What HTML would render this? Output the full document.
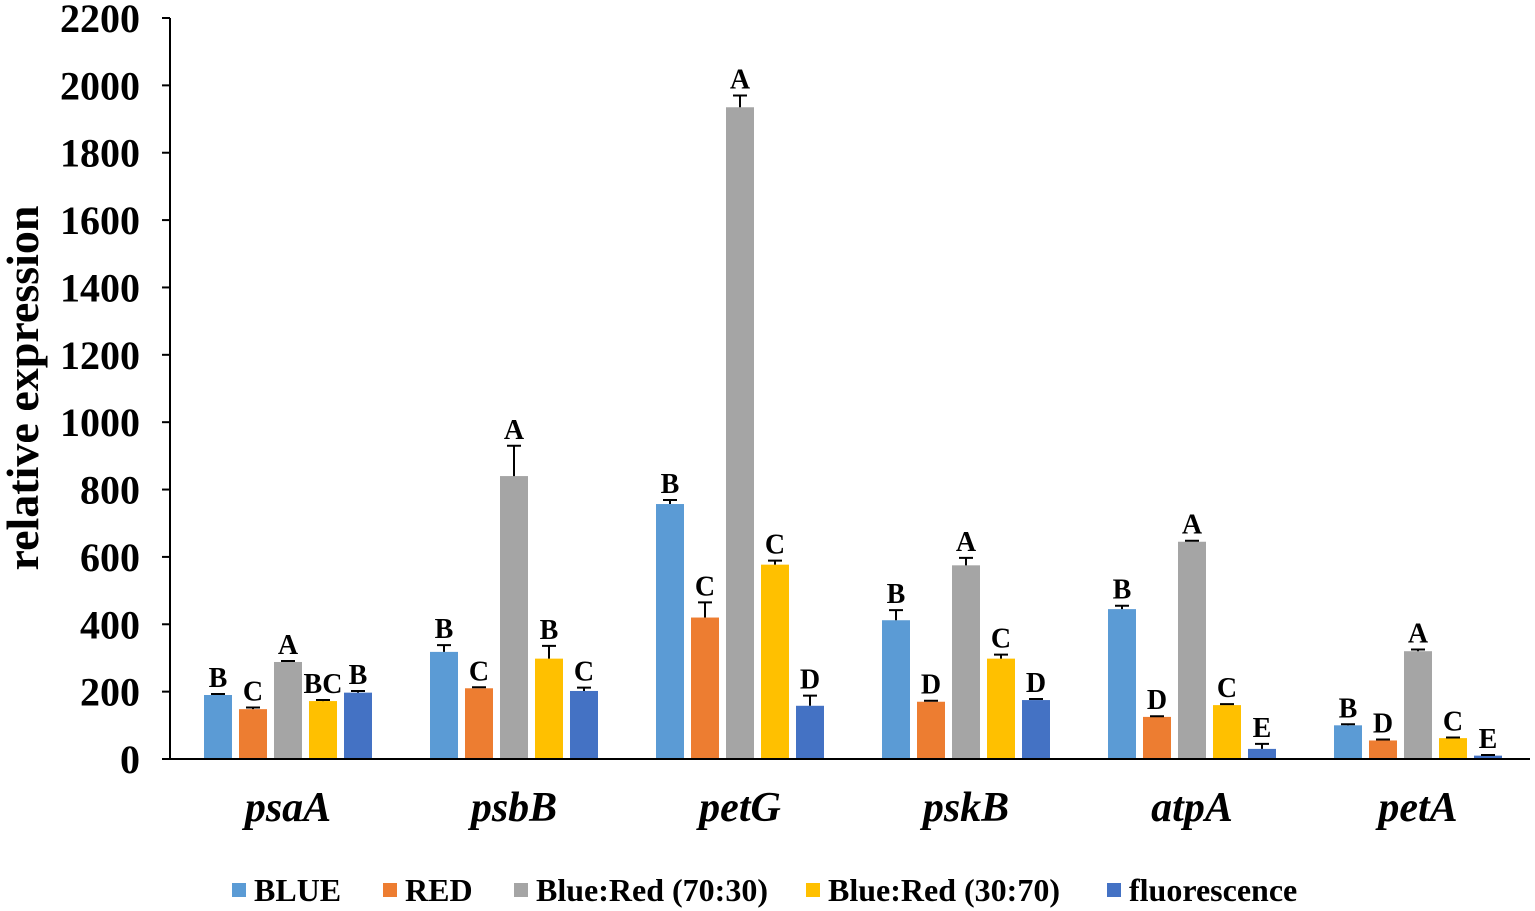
<!DOCTYPE html>
<html><head><meta charset="utf-8"><style>
html,body{margin:0;padding:0;background:#fff;}
svg{display:block;font-family:"Liberation Serif",serif;font-weight:bold;}
</style></head><body>
<svg id="chart" width="1535" height="911" xmlns="http://www.w3.org/2000/svg"></svg>
<script>
const genes=["psaA","psbB","petG","pskB","atpA","petA"];
const seriesNames=["BLUE","RED","Blue:Red (70:30)","Blue:Red (30:70)","fluorescence"];
const colors=["#5B9BD5","#ED7D31","#A5A5A5","#FFC000","#4472C4"];
const blueVals=[190,318,757,412,445,100];
const redVals=[148,210,420,170,125,55];
const br7030Vals=[288,840,1935,575,645,320];
const br3070Vals=[172,298,577,298,160,62];
const fluoVals=[197,202,158,175,30,10];
const blueErr=[3,20,12,30,10,3];
const redErr=[5,3,45,3,2,3];
const br7030Err=[3,90,35,22,3,5];
const br3070Err=[3,38,12,12,3,2];
const fluoErr=[5,10,30,3,15,2];
const blueLet=["B","B","B","B","B","B"];
const redLet=["C","C","C","D","D","D"];
const br7030Let=["A","A","A","A","A","A"];
const br3070Let=["BC","B","C","C","C","C"];
const fluoLet=["B","C","D","D","E","E"];
const yTicks=[0,200,400,600,800,1000,1200,1400,1600,1800,2000,2200];

const vals=[blueVals,redVals,br7030Vals,br3070Vals,fluoVals];
const errs=[blueErr,redErr,br7030Err,br3070Err,fluoErr];
const lets=[blueLet,redLet,br7030Let,br3070Let,fluoLet];
const NS="http://www.w3.org/2000/svg";
const svg=document.getElementById("chart");
const y0=759,yTop=18,yMax=2200;
const y=v=>y0-(v/yMax)*(y0-yTop);
const gx=i=>288+i*226;
const bw=28,step=35;
function mk(t,a,p){const e=document.createElementNS(NS,t);for(const k in a)e.setAttribute(k,a[k]);(p||svg).appendChild(e);return e;}

let ax=mk("line",{x1:170,y1:yTop,x2:170,y2:y0,stroke:"#000","stroke-width":2});


yTicks.forEach(t=>{
  let l=mk("line",{x1:162,y1:y(t),x2:170,y2:y(t),stroke:"#000","stroke-width":2});
  
  
  let tx=mk("text",{x:140,y:y(t)+14,"text-anchor":"end","font-size":40});
  tx.textContent=t;
  
  
});
let yt=mk("text",{x:0,y:0,"text-anchor":"middle","font-size":46,transform:"translate(38,388) rotate(-90)"});
yt.textContent="relative expression";



genes.forEach((g,i)=>{
  vals.forEach((arr,s)=>{
    const cx=gx(i)+(s-2)*step;
    const v=arr[i],e=errs[s][i];
    let r=mk("rect",{x:cx-bw/2,y:y(v),width:bw,height:y0-y(v),fill:colors[s]});
    
    
    const top=y(v+e);
    let el=mk("path",{d:`M${cx},${y(v)}V${top}M${cx-7},${top}H${cx+7}`,stroke:"#000","stroke-width":2,fill:"none"});
    
    
    let lt=mk("text",{x:cx,y:top-7,"text-anchor":"middle","font-size":28});
    lt.textContent=lets[s][i];
    
    
  });
  let gl=mk("text",{x:gx(i),y:821,"text-anchor":"middle","font-size":42,"font-style":"italic"});
  gl.textContent=g;
  
  
});
let xa=mk("line",{x1:170,y1:y0,x2:1530,y2:y0,stroke:"#000","stroke-width":2});



const lgX=[232,383,514,806,1107];
seriesNames.forEach((n,s)=>{
  let sq=mk("rect",{x:lgX[s],y:883,width:14,height:14,fill:colors[s]});
  
  
  let t=mk("text",{x:lgX[s]+22,y:901,"font-size":32});
  t.textContent=n;
  
  
});
</script>
</body></html>
